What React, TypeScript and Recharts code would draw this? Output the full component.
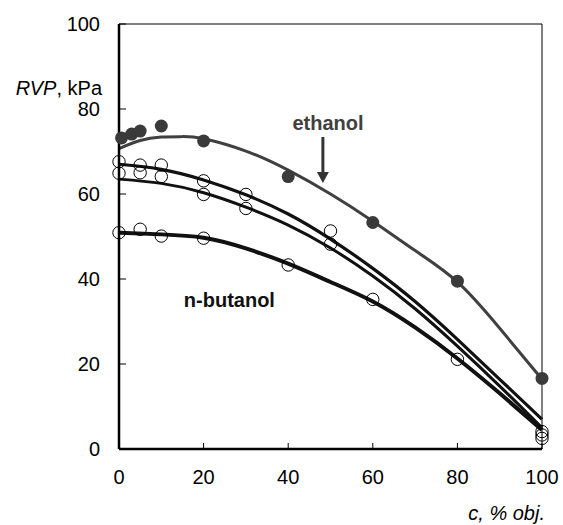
import React from 'react';
import {
  ComposedChart, Line, Scatter, XAxis, YAxis, ReferenceLine, ReferenceDot,
} from 'recharts';

// ---- data ----
const xTicks = [0, 20, 40, 60, 80, 100];
const yTicks = [0, 20, 40, 60, 80, 100];

// measured points
const ethanolPtsX = [0.6, 3, 5, 10, 20, 40, 60, 80, 100];
const ethanolPtsY = [73.2, 74.1, 74.8, 76.0, 72.5, 64.1, 53.3, 39.5, 16.6];

const upperPtsX = [0, 5, 10, 20, 30, 50, 100];
const upperPtsY = [67.6, 66.8, 66.8, 63.1, 59.9, 51.3, 4.1];

const lowerPtsX = [0, 5, 10, 20, 30, 50, 100];
const lowerPtsY = [64.9, 65.0, 64.1, 59.9, 56.6, 48.2, 2.5];

const butanolPtsX = [0, 5, 10, 20, 40, 60, 80, 100];
const butanolPtsY = [50.9, 51.7, 50.1, 49.6, 43.3, 35.2, 21.1, 3.3];

// fitted curves
const fitX = [0, 10, 20, 30, 40, 50, 60, 70, 80, 90, 100];
const ethanolFitX = [0, 5, 10, 15, 20, 30, 40, 50, 60, 70, 80, 90, 100];
const ethanolFitY = [70.7, 72.6, 73.4, 73.5, 73.0, 70.1, 65.6, 60.0, 53.6, 46.7, 39.3, 28.4, 16.4];
const upperFitY = [67.0, 65.8, 63.3, 59.8, 55.3, 49.4, 42.5, 34.7, 25.8, 16.4, 7.0];
const lowerFitY = [63.5, 62.5, 60.3, 56.9, 52.7, 47.3, 40.7, 33.0, 24.2, 14.8, 5.0];
const butanolFitY = [50.9, 50.5, 49.7, 47.2, 43.6, 39.3, 34.7, 28.6, 21.3, 13.1, 4.5];

const zip = (xs: number[], ys: number[]) => xs.map((x, i) => ({ x, y: ys[i] }));

const ethanolPts = zip(ethanolPtsX, ethanolPtsY);
const upperPts = zip(upperPtsX, upperPtsY);
const lowerPts = zip(lowerPtsX, lowerPtsY);
const butanolPts = zip(butanolPtsX, butanolPtsY);
const ethanolFit = zip(ethanolFitX, ethanolFitY);
const upperFit = zip(fitX, upperFitY);
const lowerFit = zip(fitX, lowerFitY);
const butanolFit = zip(fitX, butanolFitY);

const FONT = '"Liberation Sans", Arial, sans-serif';
const FS = 20;

const YTick = (p: any) => (
  <g>
    <line x1={p.x + 19} x2={p.x + 26} y1={p.y} y2={p.y} stroke="#000" strokeWidth={1} />
    <text x={p.x} y={p.y + 7} textAnchor="end" fontFamily={FONT} fontSize={FS} fill="#000">
      {p.payload.value}
    </text>
  </g>
);

const XTick = (p: any) => (
  <g>
    <line x1={p.x} x2={p.x} y1={p.y - 35} y2={p.y - 41} stroke="#000" strokeWidth={1} />
    <text x={p.x} y={p.y} textAnchor="middle" fontFamily={FONT} fontSize={FS} fill="#000">
      {p.payload.value}
    </text>
  </g>
);

const openCircle = (p: any) => (
  <circle cx={p.cx} cy={p.cy} r={6.2} fill="none" stroke="#000" strokeWidth={1} />
);
const filledCircle = (p: any) => (
  <circle cx={p.cx} cy={p.cy} r={6.5} fill="#3a3a3a" stroke="none" />
);

const YLabel = (p: any) => {
  const vb = p.viewBox;
  return (
    <text x={vb.x + vb.width - 17} y={vb.y + 71} textAnchor="end" fontFamily={FONT} fontSize={FS} fill="#000">
      <tspan fontStyle="italic">RVP</tspan>
      <tspan>, kPa</tspan>
    </text>
  );
};

const XLabel = (p: any) => {
  const vb = p.viewBox;
  return (
    <text x={vb.x + vb.width + 3} y={vb.y + 71} textAnchor="end" fontFamily={FONT} fontSize={FS} fontStyle="italic" fill="#000">
      c, % obj.
    </text>
  );
};

export default function App() {
  return (
    <div style={{ position: 'absolute', left: 0, top: 0, width: 563, height: 525, background: '#fff' }}>
      <ComposedChart width={563} height={525} margin={{ top: 24, right: 21, bottom: 36, left: 0 }}>
        <XAxis
          type="number"
          dataKey="x"
          domain={[0, 100]}
          ticks={xTicks}
          interval={0}
          axisLine={{ stroke: '#000', strokeWidth: 2.5 }}
          tickLine={false}
          tickSize={0}
          tickMargin={35}
          tick={XTick}
          height={40}
          label={{ content: XLabel }}
        />
        <YAxis
          type="number"
          dataKey="y"
          domain={[0, 100]}
          ticks={yTicks}
          interval={0}
          axisLine={{ stroke: '#000', strokeWidth: 2.5 }}
          tickLine={false}
          tickSize={0}
          tickMargin={19}
          tick={YTick}
          width={119}
          label={{ content: YLabel }}
        />
        <ReferenceLine y={100} stroke="#000" strokeWidth={1} />
        <ReferenceLine x={100} stroke="#000" strokeWidth={1} />

        <Line data={ethanolFit} dataKey="y" type="natural" stroke="#404040" strokeWidth={3} dot={false} activeDot={false} isAnimationActive={false} />
        <Line data={upperFit} dataKey="y" type="natural" stroke="#111" strokeWidth={3.2} dot={false} activeDot={false} isAnimationActive={false} />
        <Line data={lowerFit} dataKey="y" type="natural" stroke="#111" strokeWidth={3} dot={false} activeDot={false} isAnimationActive={false} />
        <Line data={butanolFit} dataKey="y" type="natural" stroke="#111" strokeWidth={4} dot={false} activeDot={false} isAnimationActive={false} />

        <Scatter data={ethanolPts} dataKey="y" shape={filledCircle} isAnimationActive={false} />
        <Scatter data={upperPts} dataKey="y" shape={openCircle} isAnimationActive={false} />
        <Scatter data={lowerPts} dataKey="y" shape={openCircle} isAnimationActive={false} />
        <Scatter data={butanolPts} dataKey="y" shape={openCircle} isAnimationActive={false} />

        <ReferenceDot
          x={49.4}
          y={75.0}
          r={0}
          ifOverflow="visible"
          shape={(p: any) => (
            <text x={p.cx} y={p.cy} textAnchor="middle" fontFamily={FONT} fontSize={FS} fontWeight="bold" fill="#404040">
              ethanol
            </text>
          )}
        />
        <ReferenceDot
          x={48.2}
          y={62.6}
          r={0}
          ifOverflow="visible"
          shape={(p: any) => (
            <g>
              <line x1={p.cx} x2={p.cx} y1={p.cy - 46} y2={p.cy - 10} stroke="#333" strokeWidth={3} />
              <path d={`M${p.cx - 6},${p.cy - 11} L${p.cx + 6},${p.cy - 11} L${p.cx},${p.cy} Z`} fill="#333" />
            </g>
          )}
        />
        <ReferenceDot
          x={26.1}
          y={33.5}
          r={0}
          ifOverflow="visible"
          shape={(p: any) => (
            <text x={p.cx} y={p.cy} textAnchor="middle" fontFamily={FONT} fontSize={FS} fontWeight="bold" fill="#111">
              n-butanol
            </text>
          )}
        />
      </ComposedChart>
    </div>
  );
}
